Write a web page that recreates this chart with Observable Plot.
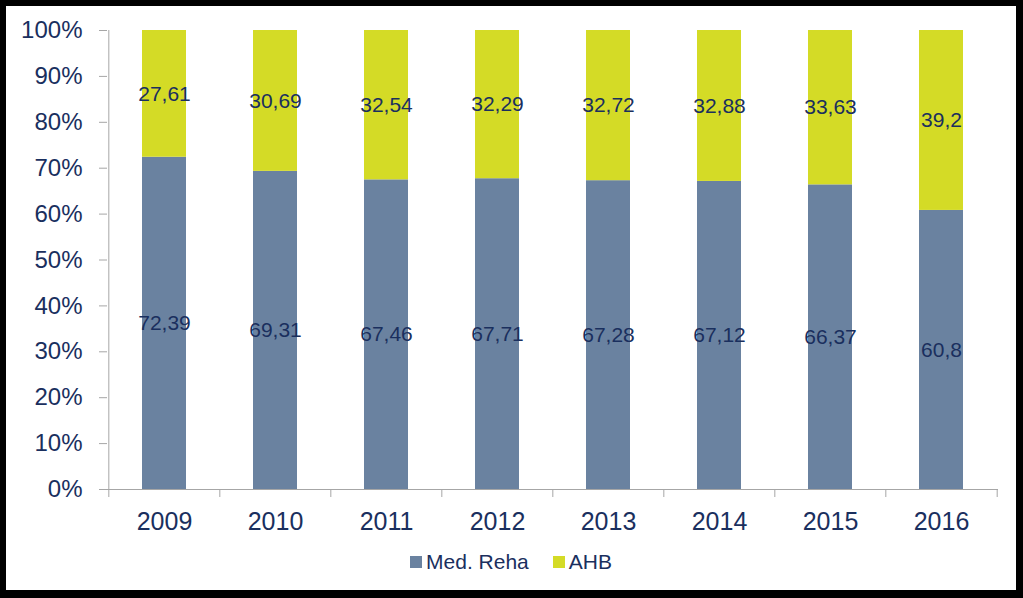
<!DOCTYPE html>
<html>
<head>
<meta charset="utf-8">
<script src="https://cdn.jsdelivr.net/npm/d3@7"></script>
<script src="https://cdn.jsdelivr.net/npm/@observablehq/plot@0.6"></script>
<style>
  html, body { margin: 0; padding: 0; background: #000; width: 1023px; height: 598px; overflow: hidden; }
  #panel { position: absolute; left: 6px; top: 6px; width: 1010px; height: 584px; background: #fff;
           font-family: "Liberation Sans", Arial, sans-serif; }
  #chart { position: absolute; left: 0; top: 0; }
  #legend { position: absolute; left: 0; top: 544px; width: 1010px; display: flex; justify-content: center;
            gap: 24px; font-size: 21px; line-height: 24px; color: #1a2f5e; }
  .item { display: flex; align-items: center; gap: 4px; }
  .sw { width: 12px; height: 12px; display: inline-block; }
</style>
</head>
<body>
<div id="panel">
  <div id="chart"></div>
  <div id="legend"></div>
</div>
<script>
const years = ["2009", "2010", "2011", "2012", "2013", "2014", "2015", "2016"];
const medReha = [72.39, 69.31, 67.46, 67.71, 67.28, 67.12, 66.37, 60.8];
const ahb = [27.61, 30.69, 32.54, 32.29, 32.72, 32.88, 33.63, 39.2];
const seriesNames = ["Med. Reha", "AHB"];
const seriesColors = ["#6A82A0", "#D4DB26"];
const yTicks = [0, 10, 20, 30, 40, 50, 60, 70, 80, 90, 100];

const navy = "#1a2f5e";
const gray = "#A6A6A6";

const table = years.flatMap((yr, i) => [
  {year: yr, series: seriesNames[0], value: medReha[i]},
  {year: yr, series: seriesNames[1], value: ahb[i]}
]);
const fmt = v => String(v).replace(".", ",");

const W = 1010, H = 530, mL = 101, mR = 18, mT = 24, mB = 47;
const step = (W - mL - mR) / years.length;

const chart = Plot.plot({
  width: W, height: H,
  marginLeft: mL, marginRight: mR, marginTop: mT, marginBottom: mB,
  style: {fontFamily: '"Liberation Sans", Arial, sans-serif', background: "transparent"},
  x: {domain: years, paddingInner: 0.6, paddingOuter: 0.3},
  y: {domain: [0, 100]},
  color: {domain: seriesNames, range: seriesColors},
  marks: [
    Plot.barY(table, {x: "year", y: "value", fill: "series"}),
    Plot.text(table, Plot.stackY({x: "year", y: "value", z: "series", text: d => fmt(d.value),
      fill: navy, fontSize: 21})),
    Plot.ruleY([0], {stroke: gray}),
    Plot.ruleX([years[0]], {x: d => d, y1: d => 100, y2: d => 0, dx: -step / 2, insetBottom: -8, stroke: gray}),
    Plot.ruleX(years.slice(1), {x: d => d, y1: d => 0, y2: d => 0, dx: -step / 2, insetBottom: -8, stroke: gray}),
    Plot.ruleX([years[years.length - 1]], {x: d => d, y1: d => 0, y2: d => 0, dx: step / 2, insetBottom: -8, stroke: gray}),
    Plot.axisY({ticks: yTicks, tickFormat: d => d + "%", tickSize: 8, tickPadding: 17, fontSize: 24,
      stroke: gray, fill: navy, label: null}),
    Plot.axisX({tickSize: 0, tickPadding: 23, fontSize: 25, fill: navy, label: null})
  ]
});
document.getElementById("chart").appendChild(chart);

const legend = document.getElementById("legend");
seriesNames.forEach((name, i) => {
  const it = document.createElement("span");
  it.className = "item";
  const sw = document.createElement("span");
  sw.className = "sw";
  sw.style.background = seriesColors[i];
  const t = document.createElement("span");
  t.textContent = name;
  it.appendChild(sw);
  it.appendChild(t);
  legend.appendChild(it);
});
</script>
</body>
</html>
